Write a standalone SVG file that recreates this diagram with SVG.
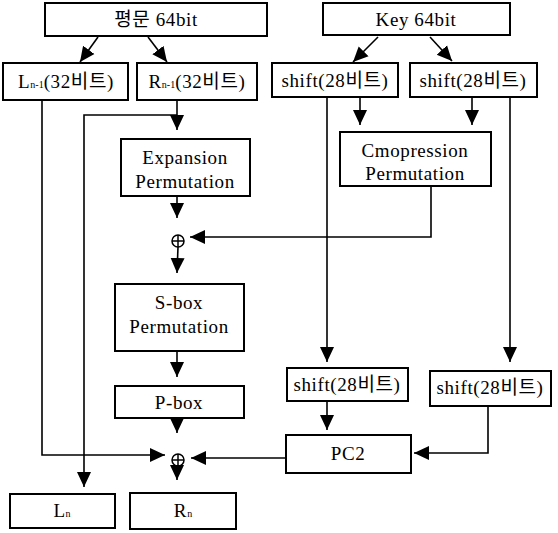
<svg xmlns="http://www.w3.org/2000/svg" width="558" height="533" viewBox="0 0 558 533">
<style>
.box{fill:#fff;stroke:#000;stroke-width:2}
text{font-family:'Liberation Serif','DejaVu Serif','Noto Sans CJK KR',serif;font-size:19px;letter-spacing:0.6px;fill:#000;text-anchor:middle}
.sub{font-size:10px;letter-spacing:0}
.c{fill:none;stroke:#000;stroke-width:1.6}
.x{fill:none;stroke:#000;stroke-width:1.5}
</style>
<defs>
<marker id="ah" markerUnits="userSpaceOnUse" markerWidth="16" markerHeight="16" viewBox="0 0 16 16" refX="15" refY="8" orient="auto">
<path d="M0,1 L15,8 L0,15 Z" fill="#000"/>
</marker>
</defs>
<g id="connectors">
<line class="c" x1="98" y1="37" x2="80" y2="62" marker-end="url(#ah)"/>
<line class="c" x1="148" y1="37" x2="167" y2="62" marker-end="url(#ah)"/>
<line class="c" x1="378" y1="37" x2="353" y2="62" marker-end="url(#ah)"/>
<line class="c" x1="430" y1="37" x2="452" y2="61" marker-end="url(#ah)"/>
<line class="c" x1="177" y1="100" x2="177" y2="130" marker-end="url(#ah)"/>
<polyline class="c" points="177,115 84,115 84,487" marker-end="url(#ah)"/>
<polyline class="c" points="42,100 42,455 165,455" marker-end="url(#ah)"/>
<line class="c" x1="177" y1="196" x2="177" y2="218" marker-end="url(#ah)"/>
<line class="c" x1="178" y1="247" x2="177" y2="273" marker-end="url(#ah)"/>
<polyline class="c" points="431,186 431,237 190,237" marker-end="url(#ah)"/>
<line class="c" x1="177" y1="351" x2="177" y2="377" marker-end="url(#ah)"/>
<line class="c" x1="177" y1="418" x2="177" y2="433" marker-end="url(#ah)"/>
<line class="c" x1="177" y1="465" x2="177" y2="480" marker-end="url(#ah)"/>
<line class="c" x1="360" y1="97" x2="360" y2="125" marker-end="url(#ah)"/>
<line class="c" x1="472" y1="97" x2="472" y2="125" marker-end="url(#ah)"/>
<line class="c" x1="327" y1="97" x2="327" y2="362" marker-end="url(#ah)"/>
<line class="c" x1="510" y1="97" x2="510" y2="362" marker-end="url(#ah)"/>
<line class="c" x1="327" y1="401" x2="327" y2="430" marker-end="url(#ah)"/>
<polyline class="c" points="488,406 488,453 414,453" marker-end="url(#ah)"/>
<line class="c" x1="286" y1="458" x2="191" y2="458" marker-end="url(#ah)"/>
</g>
<g id="plain"><rect class="box" x="45" y="3" width="222" height="33"/><text x="156" y="26">평문 64bit</text></g>
<g id="key"><rect class="box" x="323" y="3" width="187" height="32"/><text x="416" y="26">Key 64bit</text></g>
<g id="lprev"><rect class="box" x="3" y="63" width="125" height="37"/><text x="66" y="88">L<tspan class="sub">n-1</tspan>(32비트)</text></g>
<g id="rprev"><rect class="box" x="137" y="63" width="120" height="37"/><text x="197" y="88">R<tspan class="sub">n-1</tspan>(32비트)</text></g>
<g id="shift1"><rect class="box" x="272" y="63" width="126" height="34"/><text x="335" y="87">shift(28비트)</text></g>
<g id="shift2"><rect class="box" x="410" y="63" width="127" height="34"/><text x="473" y="87">shift(28비트)</text></g>
<g id="expansion"><rect class="box" x="121" y="139" width="129" height="57"/><text x="185" y="164">Expansion</text><text x="185" y="188">Permutation</text></g>
<g id="compression"><rect class="box" x="340" y="132" width="151" height="54"/><text x="415" y="157">Cmopression</text><text x="415" y="180">Permutation</text></g>
<g id="xor1"><circle class="x" cx="178" cy="241" r="6"/><line class="x" x1="172" y1="241" x2="184" y2="241"/><line class="x" x1="178" y1="235" x2="178" y2="247"/></g>
<g id="sbox"><rect class="box" x="115" y="284" width="129" height="67"/><text x="179" y="309">S-box</text><text x="179" y="333">Permutation</text></g>
<g id="pbox"><rect class="box" x="115" y="386" width="129" height="32"/><text x="179" y="409">P-box</text></g>
<g id="shift3"><rect class="box" x="287" y="368" width="121" height="33"/><text x="347" y="391">shift(28비트)</text></g>
<g id="shift4"><rect class="box" x="430" y="371" width="121" height="35"/><text x="490" y="394">shift(28비트)</text></g>
<g id="pc2"><rect class="box" x="286" y="435" width="125" height="38"/><text x="348" y="460">PC2</text></g>
<g id="xor2"><circle class="x" cx="178" cy="460" r="6"/><line class="x" x1="172" y1="460" x2="184" y2="460"/><line class="x" x1="178" y1="454" x2="178" y2="466"/></g>
<g id="ln"><rect class="box" x="10" y="494" width="105" height="34"/><text x="62" y="517">L<tspan class="sub">n</tspan></text></g>
<g id="rn"><rect class="box" x="130" y="493" width="106" height="36"/><text x="183" y="517">R<tspan class="sub">n</tspan></text></g>
</svg>
